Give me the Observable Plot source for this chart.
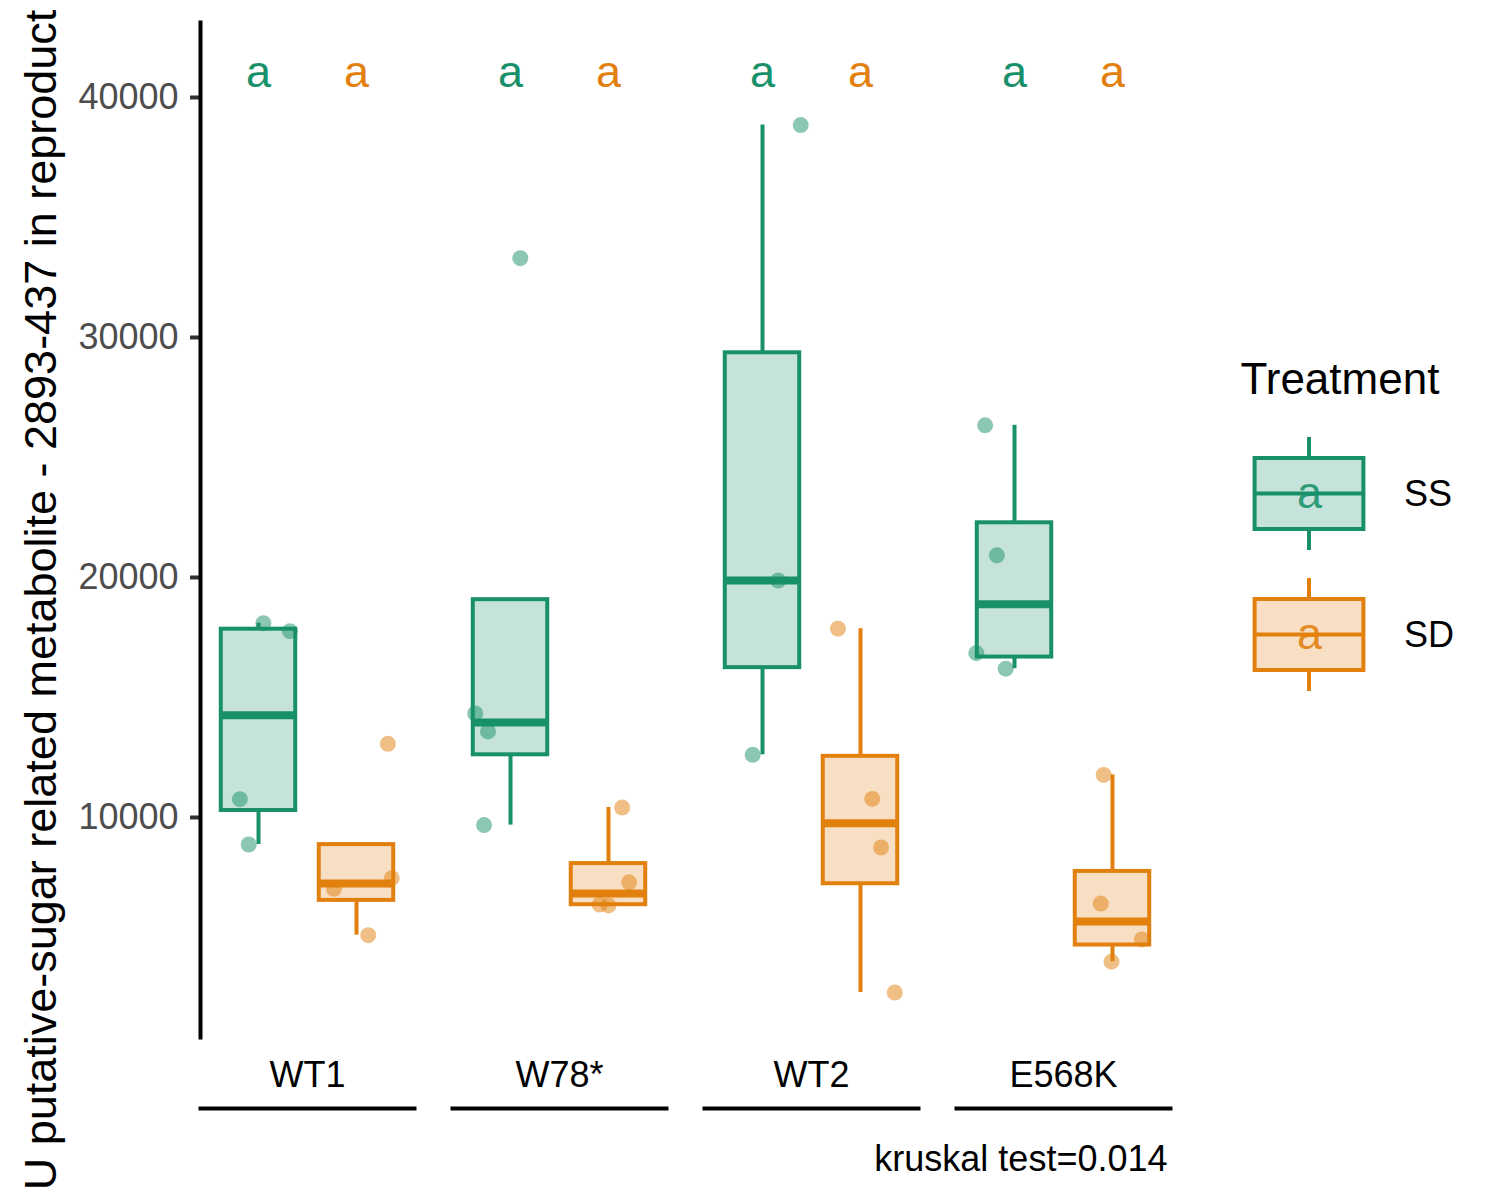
<!DOCTYPE html>
<html>
<head>
<meta charset="utf-8">
<script src="https://cdn.jsdelivr.net/npm/d3@7"></script>
<script src="https://cdn.jsdelivr.net/npm/@observablehq/plot@0.6"></script>
<style>
  html, body { margin: 0; padding: 0; background: white; }
  #wrap { position: relative; width: 1500px; height: 1200px; overflow: hidden; background: white; }
  #legend { position: absolute; left: 1220px; top: 340px; }
</style>
</head>
<body>
<div id="wrap"><div id="main"></div><div id="legend"></div></div>
<script>
const groups = ["WT1", "W78*", "WT2", "E568K"];
const treatments = ["SS", "SD"];
const colors = ["#18906A", "#E2800E"];
const ssValues = [[18096, 17763, 10763, 8875], [33304, 14333, 13588, 9683], [38850, 19875, 12612], [26342, 20925, 16846, 16200]];
const sdValues = [[13070, 7471, 7029, 5096], [10417, 7300, 6375, 6337], [17867, 10775, 8750, 2708], [11775, 6412, 4917, 3992]];
const ssJitter = [[0.05, 0.32, -0.19, -0.10], [0.10, -0.36, -0.23, -0.27], [0.39, 0.16, -0.10], [-0.30, -0.18, -0.39, -0.09]];
const sdJitter = [[0.32, 0.36, -0.23, 0.12], [0.14, 0.21, -0.09, 0.0], [-0.23, 0.12, 0.21, 0.35], [-0.09, -0.12, 0.30, -0.01]];
const ssLetters = ["a", "a", "a", "a"];
const sdLetters = ["a", "a", "a", "a"];
const yTicks = [10000, 20000, 30000, 40000];
const yLabel = "U putative-sugar related metabolite - 2893-437 in reproduct";
const caption = "kruskal test=0.014";
const legendTitle = "Treatment";

const valuesBy = [ssValues, sdValues];
const jitterBy = [ssJitter, sdJitter];
const lettersBy = [ssLetters, sdLetters];

const points = [];
const stats = [];
groups.forEach((g, gi) => {
  treatments.forEach((t, ti) => {
    const vals = valuesBy[ti][gi];
    vals.forEach((v, k) => points.push({group: g, treatment: t, pos: ti + 1, value: v, jitter: jitterBy[ti][gi][k]}));
    const s = vals.slice().sort(d3.ascending);
    const q1 = d3.quantile(s, 0.25), med = d3.quantile(s, 0.5), q3 = d3.quantile(s, 0.75);
    const iqr = q3 - q1;
    const inside = s.filter(v => v >= q1 - 1.5 * iqr && v <= q3 + 1.5 * iqr);
    stats.push({
      group: g, treatment: t, pos: ti + 1, q1, median: med, q3,
      lower: Math.min(q1, d3.min(inside)), upper: Math.max(q3, d3.max(inside)),
      letter: lettersBy[ti][gi]
    });
  });
});

const halfW = 0.38;
const font = "'Liberation Sans', Arial, Helvetica, sans-serif";

const main = Plot.plot({
  width: 1500, height: 1200,
  marginTop: 22, marginBottom: 163, marginLeft: 200, marginRight: 330,
  style: {fontFamily: font, background: "white", color: "black"},
  fx: {domain: groups, paddingInner: 0.151, paddingOuter: 0, label: null},
  x: {domain: [0.408, 2.592], axis: null},
  y: {domain: [833, 43125]},
  color: {domain: treatments, range: colors},
  marks: [
    Plot.ruleX(stats, {fx: "group", x: "pos", y1: "q3", y2: "upper", stroke: "treatment", strokeWidth: 4}),
    Plot.ruleX(stats, {fx: "group", x: "pos", y1: "lower", y2: "q1", stroke: "treatment", strokeWidth: 4}),
    Plot.rect(stats, {fx: "group", x1: d => d.pos - halfW, x2: d => d.pos + halfW, y1: "q1", y2: "q3",
      fill: "treatment", fillOpacity: 0.25, stroke: "treatment", strokeWidth: 4}),
    Plot.ruleY(stats, {fx: "group", x1: d => d.pos - halfW, x2: d => d.pos + halfW, y: "median", stroke: "treatment", strokeWidth: 8}),
    Plot.dot(points, {fx: "group", x: d => d.pos + d.jitter, y: "value", fill: "treatment", fillOpacity: 0.5, r: 8, stroke: null}),
    Plot.text(stats, {fx: "group", x: "pos", text: "letter", frameAnchor: "top", dy: 50, lineAnchor: "middle",
      fill: "treatment", fontSize: 45}),
    Plot.axisY({ticks: yTicks, tickFormat: d3.format("d"), tickSize: 10, tickPadding: 12, fontSize: 36,
      fill: "#4D4D4D", stroke: "#333333", strokeWidth: 4, label: null}),
    Plot.frame({anchor: "left", facetAnchor: "left", stroke: "black", strokeWidth: 4}),
    Plot.axisFx({anchor: "bottom", tickSize: 0, tickPadding: 24, fontSize: 36, fill: "black", label: null}),
    Plot.frame({anchor: "bottom", dy: 71, stroke: "black", strokeWidth: 4}),
    Plot.text([yLabel], {frameAnchor: "left", facetAnchor: "left", rotate: -90, dx: -145, dy: 70,
      textAnchor: "middle", lineAnchor: "bottom", fontSize: 45, fill: "black"}),
    Plot.text([caption], {fx: () => groups[groups.length - 1], frameAnchor: "bottom-right", dx: -3, dy: 133,
      textAnchor: "end", lineAnchor: "bottom", fontSize: 36, fill: "black"})
  ]
});
document.getElementById("main").appendChild(main);

const legend = Plot.plot({
  width: 280, height: 400, margin: 0,
  style: {fontFamily: font, background: "transparent", color: "black"},
  x: {type: "band", domain: ["key"], range: [21, 157], padding: 0, axis: null},
  y: {type: "band", domain: treatments, range: [82.5, 364.5], padding: 0, axis: null},
  color: {domain: treatments, range: colors},
  marks: [
    Plot.cell(treatments, {x: () => "key", y: d => d, fill: d => d, insetTop: 14, insetBottom: 14, insetLeft: 66, insetRight: 66}),
    Plot.cell(treatments, {x: () => "key", y: d => d, fill: "white", insetTop: 35, insetBottom: 35, insetLeft: 13.6, insetRight: 13.6}),
    Plot.cell(treatments, {x: () => "key", y: d => d, fill: d => d, fillOpacity: 0.25, stroke: d => d, strokeWidth: 4,
      insetTop: 35, insetBottom: 35, insetLeft: 13.6, insetRight: 13.6}),
    Plot.cell(treatments, {x: () => "key", y: d => d, fill: d => d, insetTop: 68.5, insetBottom: 68.5, insetLeft: 13.6, insetRight: 13.6}),
    Plot.text(treatments, {x: () => "key", y: d => d, text: () => "a", fill: d => d, fillOpacity: 0.9, fontSize: 45}),
    Plot.text(treatments, {x: () => "key", y: d => d, text: d => d, dx: 94.5, textAnchor: "start", fontSize: 36, fill: "black"}),
    Plot.text([legendTitle], {frameAnchor: "top-left", dx: 20, dy: 53, lineAnchor: "bottom", textAnchor: "start", fontSize: 44, fill: "black"})
  ]
});
document.getElementById("legend").appendChild(legend);
</script>
</body>
</html>
